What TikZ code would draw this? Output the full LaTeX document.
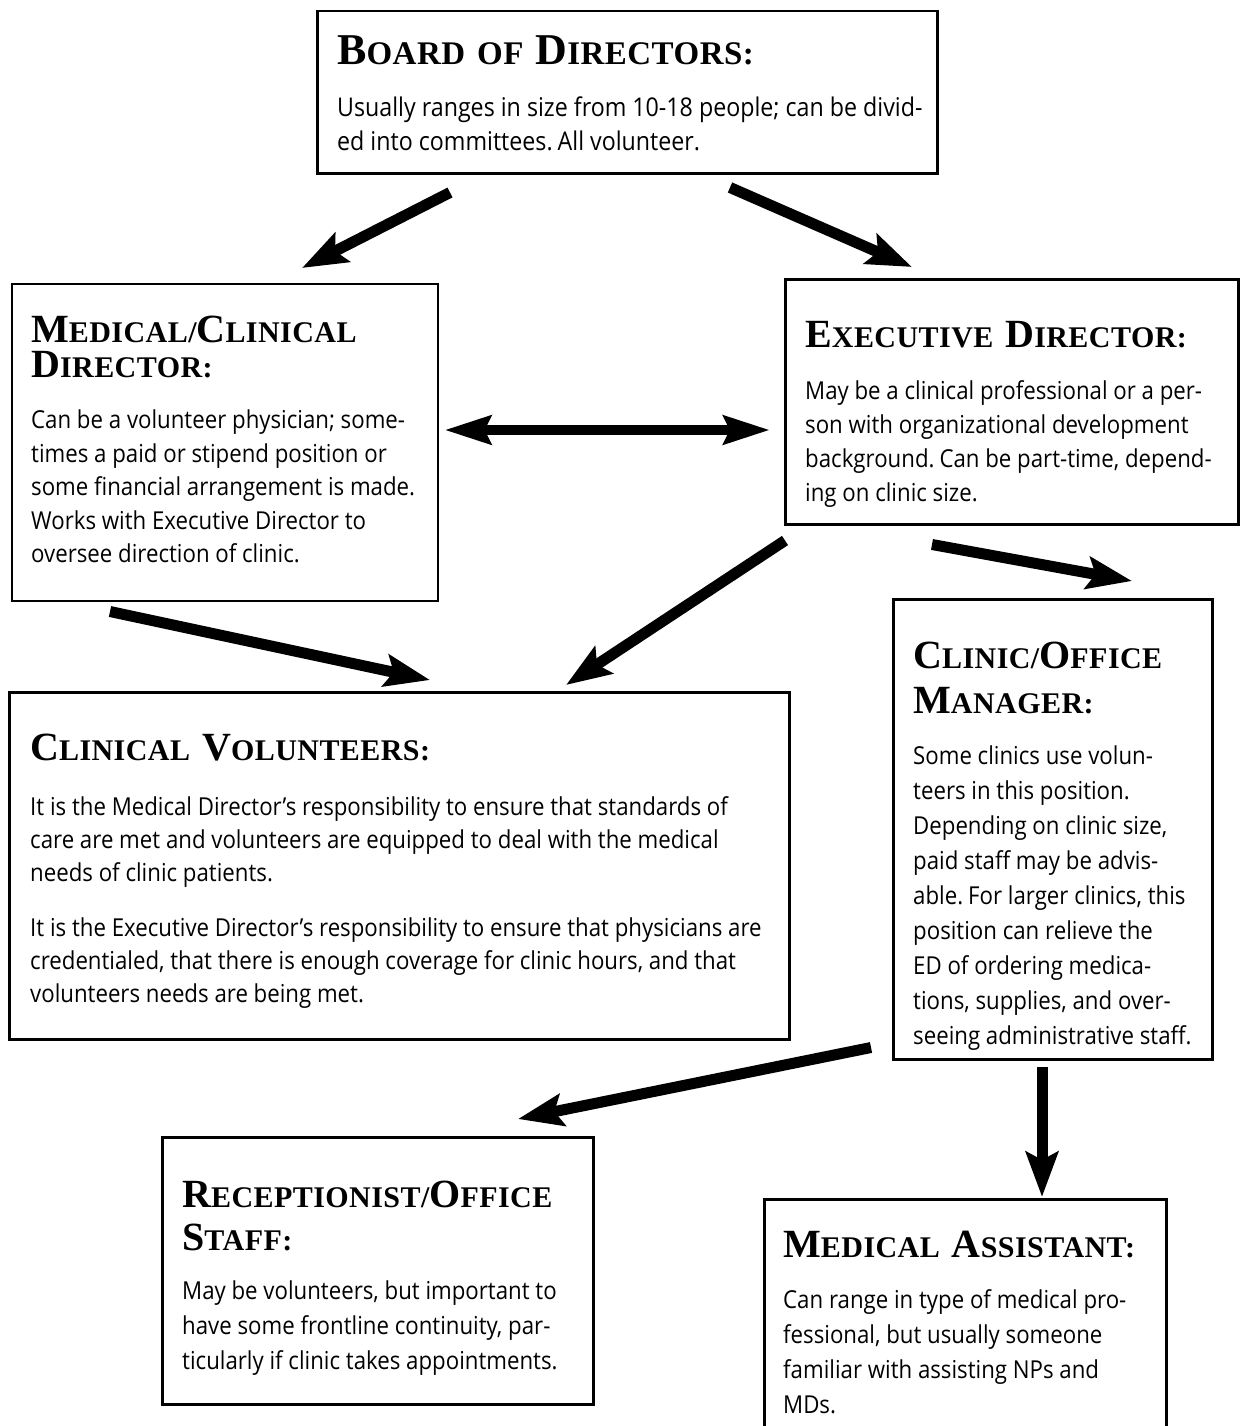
\documentclass[tikz,border=0pt]{standalone}
\usepackage{fontspec}
\setmainfont{Open Sans}[FakeStretch=0.9]
\newfontfamily\headfont{Liberation Serif}[LetterSpace=1.5]
\usetikzlibrary{positioning}
\usetikzlibrary{arrows.meta}

\newcommand{\bigc}[1]{{\fontsize{40pt}{40pt}\selectfont #1}}
\newcommand{\bigb}[1]{{\fontsize{44pt}{44pt}\selectfont #1}}
\newcommand{\hd}[1][30pt]{\headfont\bfseries\fontsize{#1}{35pt}\selectfont\spaceskip=12pt}
\newcommand{\bd}[2][34pt]{\normalfont\fontsize{#2}{#1}\selectfont\spaceskip=0pt}

\begin{document}
\begin{tikzpicture}[x=1pt, y=-1pt,
            box/.style={rectangle, draw=black, line width=2.5pt, anchor=north west, inner sep=0pt},
            txt/.style={anchor=north west, inner sep=0pt, align=left},
            arw/.style={line width=11pt, -{Stealth[length=45pt, width=32pt, inset=8pt]}},
            dblarw/.style={line width=10pt, {Stealth[length=46pt, width=28pt, inset=6pt]}-{Stealth[length=46pt, width=28pt, inset=6pt]}}
        ]
            \useasboundingbox (0,0) rectangle (1239,1426);

            % boxes
            \node[box, minimum width=620pt, minimum height=162pt](board) at (316,10){};
            \node[box, line width=1.5pt, minimum width=426pt, minimum height=317pt](med) at (11,283){};
            \node[box, minimum width=453pt, minimum height=245pt](exec) at (784,278){};
            \node[box, minimum width=780pt, minimum height=347pt](vol) at (8,691){};
            \node[box, minimum width=319pt, minimum height=460pt](mgr) at (892,598){};
            \node[box, minimum width=431pt, minimum height=267pt](recep) at (161,1136){};
            \node[box, minimum width=402pt, minimum height=250pt](assist) at (763,1198){};

            % texts
            \node[txt, text width=595pt, below right=25pt and 21pt of board.north west](boardtxt){\hd[33pt]
                \bigb{B}OARD OF \bigb{D}IRECTORS:\par\vspace{18pt}
                \bd{25.8pt} Usually ranges in size from 10-18 people; can be divid-\\
                ed into committees. All volunteer.\par};
            \node[txt, text width=400pt, below right=32.5pt and 20pt of med.north west](medtxt){\hd
                \bigc{M}EDICAL/\bigc{C}LINICAL\\
                \bigc{D}IRECTOR:\par\vspace{18pt}
                \bd[33.5pt]{24.7pt} Can be a volunteer physician; some-\\
                times a paid or stipend position or\\
                some financial arrangement is made.\\
                Works with Executive Director to\\
                oversee direction of clinic.\par};
            \node[txt, text width=428pt, below right=43.5pt and 21pt of exec.north west](exectxt){\hd
                \bigc{E}XECUTIVE \bigc{D}IRECTOR:\par\vspace{18pt}
                \bd{24.7pt} May be a clinical professional or a per-\\
                son with organizational development\\
                background. Can be part-time, depend-\\
                ing on clinic size.\par};
            \node[txt, text width=755pt, below right=42.5pt and 22pt of vol.north west](voltxt){\hd
                \bigc{C}LINICAL \bigc{V}OLUNTEERS:\par\vspace{22pt}
                \bd[33pt]{24.7pt} It is the Medical Director’s responsibility to ensure that standards of\\
                care are met and volunteers are equipped to deal with the medical\\
                needs of clinic patients.\par\vspace{22pt}
                It is the Executive Director’s responsibility to ensure that physicians are\\
                credentialed, that there is enough coverage for clinic hours, and that\\
                volunteers needs are being met.\par};
            \node[txt, text width=294pt, below right=43.5pt and 21pt of mgr.north west](mgrtxt){\hd
                \bigc{C}LINIC/\bigc{O}FFICE\\[10pt]
                \bigc{M}ANAGER:\par\vspace{16pt}
                \bd[35pt]{24.7pt} Some clinics use volun-\\
                teers in this position.\\
                Depending on clinic size,\\
                paid staff may be advis-\\
                able. For larger clinics, this\\
                position can relieve the\\
                ED of ordering medica-\\
                tions, supplies, and over-\\
                seeing administrative staff.\par};
            \node[txt, text width=406pt, below right=44.5pt and 21pt of recep.north west](receptxt){\hd
                \bigc{R}ECEPTIONIST/\bigc{O}FFICE\\[8pt]
                \bigc{S}TAFF:\par\vspace{14pt}
                \bd[35pt]{24.7pt} May be volunteers, but important to\\
                have some frontline continuity, par-\\
                ticularly if clinic takes appointments.\par};
            \node[txt, text width=377pt, below right=32.5pt and 20pt of assist.north west](assisttxt){\hd
                \bigc{M}EDICAL \bigc{A}SSISTANT:\par\vspace{16pt}
                \bd[35pt]{24.7pt} Can range in type of medical pro-\\
                fessional, but usually someone\\
                familiar with assisting NPs and\\
                MDs.\par};

            % arrows
            \draw[arw] ([xshift=134pt, yshift=-18pt]board.south west) -- ([xshift=291pt, yshift=15pt]med.north west);
            \draw[arw] ([xshift=414pt, yshift=-13pt]board.south west) -- ([xshift=128pt, yshift=11pt]exec.north west);
            \draw[dblarw] ([xshift=6pt, yshift=-147pt]med.north east) -- ([xshift=-14pt, yshift=-152pt]exec.north west);
            \draw[arw] ([xshift=99pt, yshift=-10pt]med.south west) -- ([xshift=422pt, yshift=11pt]vol.north west);
            \draw[arw] ([xshift=1pt, yshift=-15pt]exec.south west) -- ([xshift=558pt, yshift=6pt]vol.north west);
            \draw[arw] ([xshift=148pt, yshift=-19pt]exec.south west) -- ([xshift=240pt, yshift=17pt]mgr.north west);
            \draw[arw] ([xshift=-21pt, yshift=13pt]mgr.south west) -- ([xshift=357pt, yshift=17pt]recep.north west);
            \draw[arw] ([xshift=150pt, yshift=-6pt]mgr.south west) -- ([xshift=279pt, yshift=1pt]assist.north west);
        \end{tikzpicture}
\end{document}
